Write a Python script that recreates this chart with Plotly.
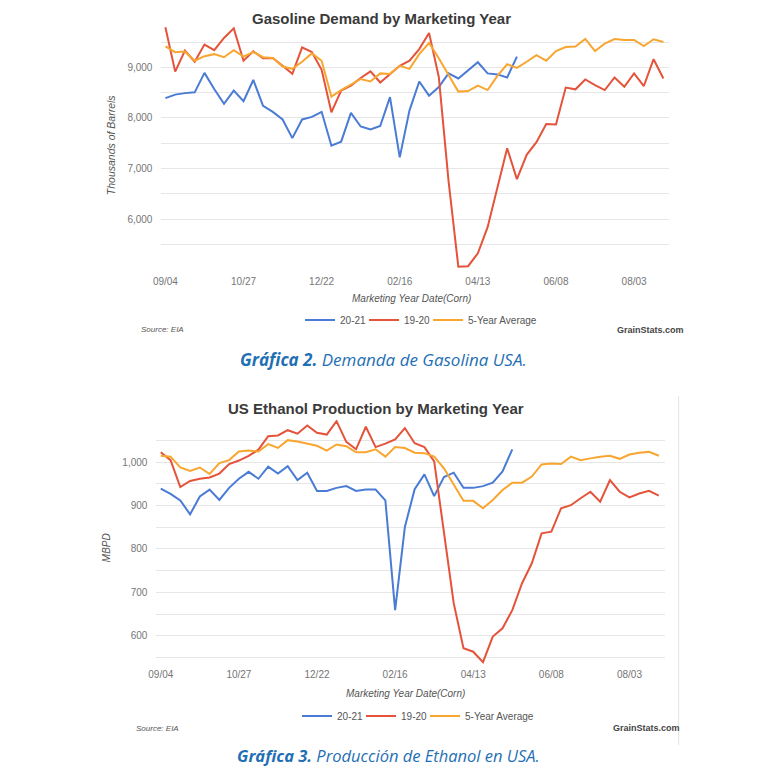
import plotly.graph_objects as go

# ---------------- data ----------------
weeks = list(range(52))
tick_idx = [0, 8, 16, 24, 32, 40, 48]
tick_labels = ["09/04", "10/27", "12/22", "02/16", "04/13", "06/08", "08/03"]

series_names = ["20-21", "19-20", "5-Year Average"]

gas_2021 = [8390, 8460, 8490, 8505, 8890, 8570, 8280, 8540, 8330, 8750, 8240, 8120,
            7970, 7600, 7970, 8020, 8120, 7450, 7530, 8100, 7830, 7770, 7840, 8410,
            7220, 8150, 8720, 8440, 8610, 8880, 8780, 8940, 9100, 8880, 8860, 8800, 9210]
gas_1920 = [9790, 8915, 9330, 9110, 9450, 9340, 9580, 9770, 9130, 9315, 9180, 9185,
            9030, 8870, 9395, 9300, 8950, 8110, 8540, 8640, 8790, 8920, 8700, 8870,
            9030, 9130, 9360, 9680, 8810, 6750, 5060, 5070, 5325, 5840, 6610, 7400,
            6790, 7270, 7520, 7880, 7870, 8600, 8565, 8760, 8650, 8550, 8800, 8615,
            8880, 8630, 9160, 8780]
gas_5yr = [9415, 9300, 9310, 9130, 9220, 9260, 9200, 9340, 9210, 9300, 9200, 9185,
           9015, 8970, 9110, 9275, 9130, 8420, 8550, 8660, 8770, 8720, 8880, 8870,
           9030, 8970, 9260, 9480, 9180, 8850, 8520, 8530, 8640, 8550, 8830, 9060,
           8990, 9110, 9240, 9130, 9320, 9400, 9410, 9560, 9320, 9470, 9560, 9540,
           9540, 9420, 9555, 9500]

eth_2021 = [939, 927, 912, 880, 921, 937, 913, 941, 962, 978, 962, 990, 974, 991,
            959, 976, 934, 934, 941, 945, 934, 937, 937, 912, 659, 851, 938, 972,
            922, 966, 976, 941, 941, 945, 953, 979, 1030]
eth_1920 = [1023, 1005, 943, 957, 962, 965, 974, 996, 1004, 1015, 1029, 1060, 1062,
            1074, 1066, 1085, 1068, 1064, 1095, 1047, 1030, 1082, 1035, 1043, 1053,
            1079, 1044, 1035, 1002, 840, 675, 571, 563, 539, 598, 617, 659, 721, 767,
            836, 840, 894, 901, 917, 932, 909, 959, 932, 919, 928, 934, 923]
eth_5yr = [1015, 1013, 988, 980, 988, 973, 998, 1005, 1025, 1027, 1025, 1042, 1033,
           1051, 1048, 1043, 1038, 1027, 1041, 1037, 1023, 1023, 1030, 1013, 1035,
           1033, 1022, 1021, 1013, 986, 948, 911, 911, 894, 913, 936, 953, 953, 967,
           995, 997, 996, 1013, 1005, 1009, 1013, 1015, 1008, 1018, 1022, 1024, 1015]

colors = ["#4a7bd5", "#e4533a", "#f8a630"]
legend_widths = [19, 19, 72]

# ---------------- figure ----------------
fig = go.Figure()

for name, vals, col, lw in zip(series_names, [gas_2021, gas_1920, gas_5yr], colors, legend_widths):
    fig.add_trace(go.Scatter(x=weeks[:len(vals)], y=vals, mode="lines", name=name,
                             line=dict(color=col, width=2), xaxis="x", yaxis="y",
                             legend="legend", legendwidth=lw))
for name, vals, col, lw in zip(series_names, [eth_2021, eth_1920, eth_5yr], colors, legend_widths):
    fig.add_trace(go.Scatter(x=weeks[:len(vals)], y=vals, mode="lines", name=name,
                             line=dict(color=col, width=2), xaxis="x2", yaxis="y2",
                             legend="legend2", legendwidth=lw))

W = H = 768


def px(x):
    # reference pixel -> paper fraction (with empirical page-offset correction)
    xc = x - (15 - (x - 166) * 7 / 467)
    return xc / W


def py(y):
    yc = y - 8
    return 1 - yc / H


tick_font = dict(family="Liberation Sans, Arial", size=10, color="#757575")
grid = "#e6e6e6"

xcommon = dict(tickmode="array", tickvals=tick_idx, ticktext=tick_labels,
               showgrid=False, zeroline=False, showline=False, ticks="",
               tickfont=tick_font, fixedrange=True)

legend_font = dict(family="Liberation Sans, Arial", size=10, color="#555")

fig.update_layout(
    width=W, height=H, margin=dict(l=0, r=0, t=0, b=0),
    paper_bgcolor="white", plot_bgcolor="white",
    xaxis=dict(domain=[px(162), px(667)], range=[-0.41, 51.54], anchor="y",
               ticklabelstandoff=5, **xcommon),
    yaxis=dict(domain=[py(268.7), py(24.3)], range=[5020, 9850], anchor="x",
               tickmode="linear", tick0=0, dtick=1000, tickformat=",d",
               showgrid=True, gridcolor=grid, gridwidth=1.3, zeroline=False,
               minor=dict(dtick=500, tick0=0, showgrid=True, gridcolor=grid, gridwidth=1.3),
               tickfont=tick_font, ticklabelstandoff=8, ticks=""),
    xaxis2=dict(domain=[px(157), px(663)], range=[-0.45, 51.6], anchor="y2", **xcommon),
    yaxis2=dict(domain=[py(666.9), py(419.8)], range=[528, 1098], anchor="x2",
                tickmode="linear", tick0=0, dtick=100, tickformat=",d",
                showgrid=True, gridcolor=grid, gridwidth=1.3, zeroline=False,
                minor=dict(dtick=50, tick0=0, showgrid=True, gridcolor=grid, gridwidth=1.3),
                tickfont=tick_font, ticklabelstandoff=8, ticks=""),
    legend=dict(orientation="h", x=px(300), y=py(320), xanchor="left", yanchor="middle",
                font=legend_font, bgcolor="rgba(0,0,0,0)", itemwidth=30, tracegroupgap=0),
    legend2=dict(orientation="h", x=px(297), y=py(716), xanchor="left", yanchor="middle",
                 font=legend_font, bgcolor="rgba(0,0,0,0)", itemwidth=30, tracegroupgap=0),
    showlegend=True,
)

title_font = dict(family="Liberation Sans, Arial", size=15, color="#3a3a3a")
axis_title_font = dict(family="Liberation Sans, Arial", size=10, color="#555")
small_font = dict(family="Liberation Sans, Arial", size=8, color="#555")
brand_font = dict(family="Liberation Sans, Arial", size=9, color="#444")
caption_font = dict(family="Open Sans, Lato, sans-serif", size=16.5, color="#1f6fb4")

annotations = [
    # chart 1
    dict(text="<b>Gasoline Demand by Marketing Year</b>", x=px(381), y=1.0,
         yanchor="top", font=title_font),
    dict(text="<i>Thousands of Barrels</i>", x=px(112), y=py(145), textangle=-90,
         font=dict(family="Liberation Sans, Arial", size=10.5, color="#555")),
    dict(text="<i>Marketing Year Date(Corn)</i>", x=px(411), y=py(298),
         font=axis_title_font),
    dict(text="<i>Source: EIA</i>", x=px(140), y=py(330), xanchor="left",
         font=small_font),
    dict(text="<b>GrainStats.com</b>", x=px(684), y=py(330), xanchor="right",
         font=brand_font),
    dict(text="<b><i>Gráfica 2.</i></b><i> Demanda de Gasolina USA.</i>", x=px(383),
         y=py(360), font=dict(caption_font, size=17)),
    # chart 2
    dict(text="<b>US Ethanol Production by Marketing Year</b>", x=px(376), y=py(408),
         font=title_font),
    dict(text="<i>MBPD</i>", x=px(107), y=py(548), textangle=-90,
         font=axis_title_font),
    dict(text="<i>Marketing Year Date(Corn)</i>", x=px(405), y=py(693),
         font=axis_title_font),
    dict(text="<i>Source: EIA</i>", x=px(135), y=py(728), xanchor="left",
         font=small_font),
    dict(text="<b>GrainStats.com</b>", x=px(680), y=py(728), xanchor="right",
         font=brand_font),
    dict(text="<b><i>Gráfica 3.</i></b><i> Producción de Ethanol en USA.</i>", x=px(388),
         y=py(755), font=caption_font),
]
for a in annotations:
    a.update(xref="paper", yref="paper", showarrow=False)
    a.setdefault("xanchor", "center")
    a.setdefault("yanchor", "middle")
fig.update_layout(annotations=annotations)

# thin border at the right of the second chart picture
fig.add_shape(type="line", xref="paper", yref="paper", x0=px(677), x1=px(677),
              y0=py(396), y1=py(745), line=dict(color="#e4e4e4", width=1))

fig.write_html("out.html")
